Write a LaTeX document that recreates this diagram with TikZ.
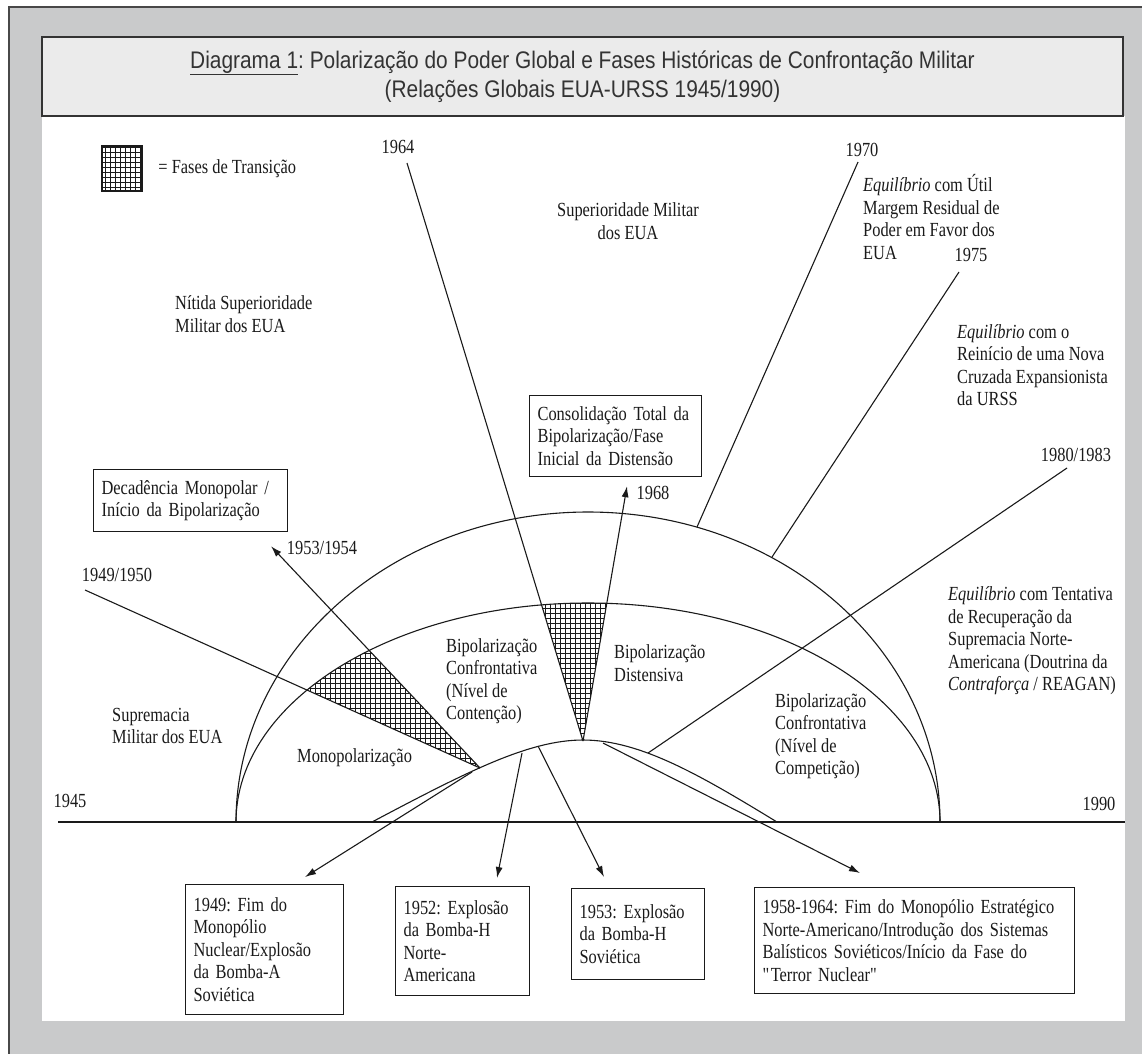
\documentclass[tikz,border=0pt]{standalone}
\usepackage{fontspec}
\setmainfont[FakeStretch=0.82]{Liberation Serif}
\newfontfamily\titlefont[FakeStretch=0.87]{Liberation Sans}
\usepackage{tikz}
\usetikzlibrary{arrows.meta,positioning,patterns}
\usepackage{xcolor}
\frenchspacing
\definecolor{framebg}{HTML}{C9CACB}
\definecolor{titlebg}{HTML}{EBEBEB}
\definecolor{ink}{HTML}{1A1A1A}
\definecolor{titleink}{HTML}{333333}
\pgfdeclarepatternformonly{transgrid}{\pgfqpoint{-1pt}{-1pt}}{\pgfqpoint{6pt}{6pt}}{\pgfqpoint{5pt}{5pt}}{%
  \pgfsetlinewidth{1pt}%
  \pgfpathmoveto{\pgfqpoint{0pt}{0pt}}\pgfpathlineto{\pgfqpoint{5.1pt}{0pt}}%
  \pgfpathmoveto{\pgfqpoint{0pt}{0pt}}\pgfpathlineto{\pgfqpoint{0pt}{5.1pt}}%
  \pgfusepath{stroke}}
\tikzset{
  >={Latex[length=11pt,width=7pt]},
  every node/.style={font=\fontsize{20}{22.5}\selectfont,text=ink,inner sep=0pt},
  titlebox/.style={draw=titleink,line width=2pt,fill=titlebg,minimum width=1081pt,minimum height=79pt,align=center,
    font=\titlefont\fontsize{24}{29}\selectfont,text=titleink},
  box/.style={draw=ink,line width=1.2pt,align=left,anchor=north west,inner xsep=8pt,inner ysep=4pt},
  txt/.style={align=left,anchor=west},
  year/.style={anchor=center},
  plainline/.style={draw=ink,line width=1.1pt},
  arrow/.style={plainline,->},
  halfarc/.style={draw=ink,line width=1.1pt},
  transition/.style={pattern=transgrid,pattern color=ink},
  legbox/.style={draw=ink,line width=2.5pt,transition,minimum width=40pt,minimum height=45pt},
}

\begin{document}
\begin{tikzpicture}[x=1pt,y=1pt]
\useasboundingbox (0,0) rectangle (1142,-1053);

% frame + title
\fill[white] (0,0) rectangle (1142,-1053);
\draw[draw=ink!80,line width=1.5pt,fill=framebg] (9,-7) rectangle (1150,-1060);
\fill[white] (42,-116) rectangle (1125,-1021);
\node[titlebox] (title) at (582.5,-76.5) {\underline{Diagrama 1}: Polarização do Poder Global e Fases Históricas de Confrontação Militar\\(Relações Globais EUA-URSS 1945/1990)};

% legend
\node[legbox] (leg) at (122,-168.5) {};
\node[right=15pt of leg] (legtxt) {= Fases de Transição};

% boxes
\node[box,text width=178pt,minimum height=62pt] (dec) at (93,-469) {Decadência Monopolar /\\Início da Bipolarização};
\node[box,text width=156pt,minimum height=81pt] (cons) at (529,-395) {Consolidação Total da\\Bipolarização/Fase\\Inicial da Distensão};
\node[box,text width=142pt,minimum height=130pt] (b49) at (185,-884) {1949: Fim do\\Monopólio\\Nuclear/Explosão\\da Bomba-A\\Soviética};
\node[box,text width=118pt,minimum height=109pt] (b52) at (395,-886) {1952: Explosão\\da Bomba-H\\Norte-\\Americana};
\node[box,text width=117pt,minimum height=91pt] (b53) at (571,-888) {1953: Explosão\\da Bomba-H\\Soviética};
\node[box,text width=304pt,minimum height=106pt] (b58) at (754,-887) {1958-1964: Fim do Monopólio Estratégico\\Norte-Americano/Introdução dos Sistemas\\Balísticos Soviéticos/Início da Fase do\\\textquotedbl Terror Nuclear\textquotedbl};

% key points
\coordinate (axl) at (58,-822);
\coordinate (axr) at (1125,-822);
\coordinate (a49) at (480,-768);
\coordinate (a64) at (583,-741);
\coordinate (e49) at (85,-590);
\coordinate (e53) at ([xshift=178pt,yshift=-14pt]dec.south west);
\coordinate (e64) at (407,-163);
\coordinate (e68) at ([xshift=98pt,yshift=-9pt]cons.south west);
\coordinate (e70) at (858,-162);
\coordinate (o70) at (697,-527);
\coordinate (e75) at (959,-272);
\coordinate (o75) at (772,-557);
\coordinate (e80) at (1067,-468);
\coordinate (o80) at (648,-753);
\coordinate (s49) at (472,-772);
\coordinate (s52) at (522,-753);
\coordinate (s53) at (538,-746);
\coordinate (s58) at (603,-743);

% transition wedges
\begin{scope}
  \clip (236,-822) arc[start angle=180,end angle=0,x radius=352,y radius=219] -- cycle;
  \fill[transition] (a49) -- (e49) -- (e53) -- cycle;
  \fill[transition] (a64) -- (e64) -- (e68) -- cycle;
\end{scope}

% axis and arcs
\draw[plainline] (axl) -- (axr);
\draw[halfarc] (236,-822) arc[start angle=180,end angle=0,x radius=352,y radius=310];
\draw[halfarc] (236,-822) arc[start angle=180,end angle=0,x radius=352,y radius=219];
\draw[halfarc] (372,-822) .. controls (470,-770) and (530,-740) .. (583,-740) .. controls (640,-740) and (700,-775) .. (777,-822);

% phase lines
\draw[plainline] (e49) -- (a49);
\draw[arrow] (a49) -- (e53);
\draw[plainline] (e64) -- (a64);
\draw[arrow] (a64) -- (e68);
\draw[plainline] (e70) -- (o70);
\draw[plainline] (e75) -- (o75);
\draw[plainline] (e80) -- (o80);

% events
\draw[arrow] (s49) -- ([xshift=120pt,yshift=7pt]b49.north west);
\draw[arrow] (s52) -- ([xshift=102pt,yshift=8pt]b52.north west);
\draw[arrow] (s53) -- ([xshift=33pt,yshift=11pt]b53.north west);
\draw[arrow] (s58) -- ([xshift=106pt,yshift=14pt]b58.north west);

% years
\node[year] (y45) at (70,-801) {1945};
\node[year] (y90) at (1099,-804) {1990};
\node[year] (y4950) at (117,-575) {1949/1950};
\node[year] (y5354) at (322,-548) {1953/1954};
\node[year] (y64) at (398,-147) {1964};
\node[year] (y68) at (653,-493) {1968};
\node[year] (y70) at (862,-150) {1970};
\node[year] (y75) at (971,-255) {1975};
\node[year] (y8083) at (1076,-455) {1980/1983};

% phase texts
\node[txt] (nitida) at (175,-314) {Nítida Superioridade\\Militar dos EUA};
\node[align=center] (supmil) at (628,-221) {Superioridade Militar\\dos EUA};
\node[txt] (eq70) at (863,-217) {\textit{Equilíbrio} com Útil\\Margem Residual de\\Poder em Favor dos\\EUA};
\node[txt] (eq75) at (957,-365) {\textit{Equilíbrio} com o\\Reinício de uma Nova\\Cruzada Expansionista\\da URSS};
\node[txt] (eq80) at (948,-641) {\textit{Equilíbrio} com Tentativa\\de Recuperação da\\Supremacia Norte-\\Americana (Doutrina da\\\textit{Contraforça} / REAGAN)};
\node[txt] (suprem) at (112,-726) {Supremacia\\Militar dos EUA};
\node[txt] (mono) at (297,-758) {Monopolarização};
\node[txt] (bcont) at (446,-681) {Bipolarização\\Confrontativa\\(Nível de\\Contenção)};
\node[txt] (bdist) at (614,-663) {Bipolarização\\Distensiva};
\node[txt] (bcomp) at (775,-736) {Bipolarização\\Confrontativa\\(Nível de\\Competição)};

\end{tikzpicture}
\end{document}
